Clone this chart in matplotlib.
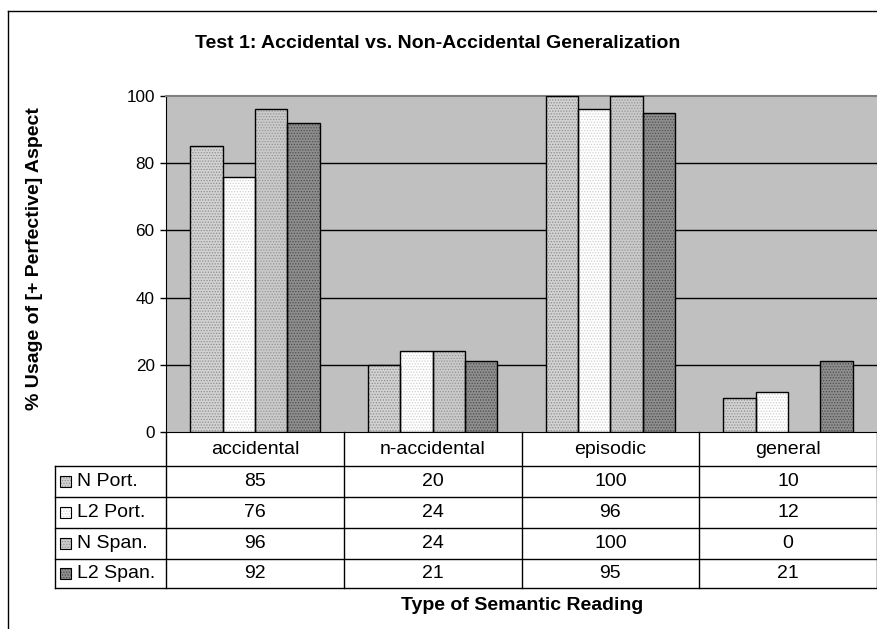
"""Bar chart with data table: perfective aspect usage by semantic reading."""

import matplotlib

matplotlib.use("Agg")
import matplotlib.pyplot as plt
import numpy as np
from matplotlib.lines import Line2D
from matplotlib.patches import Rectangle
from matplotlib.transforms import blended_transform_factory

CATEGORIES = ["accidental", "n-accidental", "episodic", "general"]
SERIES = ["N Port.", "L2 Port.", "N Span.", "L2 Span."]
N_PORT = [85, 20, 100, 10]
L2_PORT = [76, 24, 96, 12]
N_SPAN = [96, 24, 100, 0]
L2_SPAN = [92, 21, 95, 21]
Y_TICKS = [0, 20, 40, 60, 80, 100]

# face colour, dot colour for each series
STYLES = [
    ("#D2D2D2", "#8E8E8E"),
    ("#FFFFFF", "#D0D0D0"),
    ("#CACACA", "#959595"),
    ("#8E8E8E", "#4E4E4E"),
]

plt.rcParams["font.family"] = ["Liberation Sans", "DejaVu Sans"]
plt.rcParams["hatch.linewidth"] = 0.6

W, H = 877, 629
fig = plt.figure(figsize=(W / 100, H / 100), dpi=100)

# plot area in pixels
px_left, px_right, px_top, px_bot = 166, 877, 96, 432
ax = fig.add_axes([px_left / W, 1 - px_bot / H, (px_right - px_left) / W, (px_bot - px_top) / H])
ax.set_facecolor("#C0C0C0")

n = len(CATEGORIES)
x = np.arange(n)
bw = 1 / 5.5
data = [N_PORT, L2_PORT, N_SPAN, L2_SPAN]
for j, (vals, (face, dots)) in enumerate(zip(data, STYLES)):
    pos = x + (j - 1.5) * bw
    ax.bar(pos, vals, bw, color=face, edgecolor=dots, hatch="......", linewidth=0, zorder=3)
    ax.bar(pos, vals, bw, fill=False, edgecolor="black", linewidth=1.0, zorder=4)

ax.set_xlim(-0.5, n - 0.5)
ax.set_ylim(0, 100)
ax.set_yticks(Y_TICKS)
ax.set_yticklabels([str(t) for t in Y_TICKS], fontsize=12.3)
ax.tick_params(axis="y", length=4.3, width=1, pad=3.8, color="black")
ax.set_xticks([])
for t in Y_TICKS[1:-1]:
    ax.axhline(t, color="black", lw=1, zorder=1)
ax.spines["right"].set_visible(False)
ax.spines["top"].set_color("#808080")
ax.spines["top"].set_linewidth(1.5)
ax.spines["left"].set_color("black")
ax.spines["bottom"].set_color("black")

# data table underneath the plot
ax_h = px_bot - px_top
ppu = (px_right - px_left) / n  # pixels per category


def ay(py):
    return (px_bot - py) / ax_h


def dx(px):
    return -0.5 + (px - px_left) / ppu


trans = blended_transform_factory(ax.transData, ax.transAxes)
row_edges = [432, 466, 497, 528, 559, 588]
table_left = dx(55)

line_kw = dict(color="black", lw=1, transform=trans, clip_on=False)
for py in row_edges[1:]:
    ax.add_line(Line2D([table_left, n - 0.5], [ay(py), ay(py)], **line_kw))
for bx in np.arange(n + 1) - 0.5:
    ax.add_line(Line2D([bx, bx], [ay(row_edges[0]), ay(row_edges[-1])], **line_kw))
ax.add_line(Line2D([table_left, table_left], [ay(row_edges[1]), ay(row_edges[-1])], **line_kw))

hy = ay((row_edges[0] + row_edges[1]) / 2)
for i, cat in enumerate(CATEGORIES):
    ax.text(i, hy, cat, ha="center", va="center", fontsize=14, transform=trans, clip_on=False)

for j, (name, vals, (face, dots)) in enumerate(zip(SERIES, data, STYLES)):
    cy = ay((row_edges[j + 1] + row_edges[j + 2]) / 2)
    key = Rectangle((dx(60), cy - 5.5 / ax_h), 11 / ppu, 11 / ax_h, transform=trans,
                    facecolor=face, edgecolor=dots, hatch="......", lw=0, clip_on=False)
    ax.add_patch(key)
    ax.add_patch(Rectangle((dx(60), cy - 5.5 / ax_h), 11 / ppu, 11 / ax_h, transform=trans,
                           fill=False, edgecolor="black", lw=0.8, clip_on=False))
    ax.text(dx(77), cy, name, ha="left", va="center", fontsize=14, transform=trans, clip_on=False)
    for i, v in enumerate(vals):
        ax.text(i, cy, str(v), ha="center", va="center", fontsize=14, transform=trans, clip_on=False)

fig.text(438 / W, 1 - 44 / H, "Test 1: Accidental vs. Non-Accidental Generalization",
         ha="center", va="center", fontsize=14, fontweight="bold")
fig.text(522 / W, 1 - 606 / H, "Type of Semantic Reading",
         ha="center", va="center", fontsize=14, fontweight="bold")
fig.text(35 / W, 1 - 259 / H, "% Usage of [+ Perfective] Aspect", rotation=90,
         ha="center", va="center", fontsize=14, fontweight="bold")

# outer chart frame (top and left edges)
fig.add_artist(Line2D([8 / W, 1], [1 - 11 / H, 1 - 11 / H], color="black", lw=1, transform=fig.transFigure))
fig.add_artist(Line2D([8 / W, 8 / W], [0, 1 - 11 / H], color="black", lw=1, transform=fig.transFigure))

fig.savefig("out.png", dpi=100)
